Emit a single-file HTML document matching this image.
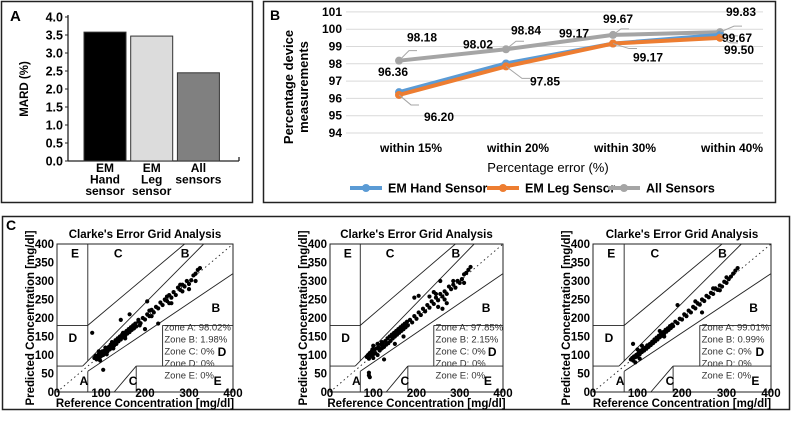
<!DOCTYPE html>
<html><head><meta charset="utf-8"><style>
body{margin:0;background:#fff}
svg{display:block;font-family:"Liberation Sans",Arial,sans-serif}
.b{font-weight:bold}
</style></head><body>
<svg id="s" width="793" height="421" viewBox="0 0 793 421" xmlns="http://www.w3.org/2000/svg">
<rect x="1.5" y="1.5" width="251" height="201" fill="none" stroke="#222" stroke-width="1.5"/>
<rect x="263.5" y="1.5" width="512" height="201" fill="none" stroke="#222" stroke-width="1.5"/>
<rect x="2.5" y="216.5" width="787" height="193" fill="none" stroke="#222" stroke-width="1.5"/>
<text x="10" y="21" class="b" font-size="15">A</text>
<text x="270" y="20" class="b" font-size="14">B</text>
<text x="6" y="230" class="b" font-size="14">C</text>
<g id="ga"></g><g id="gb"></g><g id="gc"></g>
</svg>
<script>
const NS="http://www.w3.org/2000/svg";
function mk(p,t,a,txt){const e=document.createElementNS(NS,t);for(const k in a)e.setAttribute(k,a[k]);if(txt!==undefined)e.textContent=txt;p.appendChild(e);return e;}

// ---------- Panel A data ----------
const aCats=[["EM","Hand","sensor"],["EM","Leg","sensor"],["All","sensors"]];
const aVals=[3.58,3.47,2.45];
const aTicks=["0.0","0.5","1.0","1.5","2.0","2.5","3.0","3.5","4.0"];
const aFill=["#000","#dcdcdc","#808080"];
// ---------- Panel B data ----------
const bCats=["within 15%","within 20%","within 30%","within 40%"];
const bHand=[96.36,98.02,99.17,99.67];
const bLeg=[96.20,97.85,99.17,99.50];
const bAll=[98.18,98.84,99.67,99.83];
const bTicks=[94,95,96,97,98,99,100,101];
// ---------- Panel C data ----------
const cTicks=[0,100,200,300,400];
const cYTicks=[0,50,100,150,200,250,300,350,400];
const c1Stats=["zone A: 98.02%","Zone B: 1.98%","Zone C: 0%","Zone D: 0%","Zone E: 0%"];
const c2Stats=["Zone A: 97.85%","Zone B: 2.15%","Zone C: 0%","Zone D: 0%","Zone E: 0%"];
const c3Stats=["Zone A: 99.01%","Zone B: 0.99%","Zone C: 0%","Zone D: 0%","Zone E: 0%"];
const c1Pts=[[85,92],[88,98],[90,88],[92,95],[95,102],[97,93],[100,105],[100,97],[103,110],[105,100],[108,112],[110,106],[112,118],[115,110],[118,122],[120,115],[122,128],[125,120],[128,132],[130,126],[133,140],[135,130],[138,145],[140,137],[143,150],[145,142],[148,155],[150,148],[153,160],[155,152],[158,165],[160,158],[163,170],[165,162],[168,175],[170,168],[173,180],[175,172],[178,185],[180,177],[185,190],[190,186],[195,200],[200,196],[205,210],[210,205],[215,222],[220,215],[225,230],[230,226],[235,242],[240,235],[245,250],[250,246],[255,262],[260,255],[265,270],[270,262],[275,282],[280,276],[285,290],[290,285],[295,300],[300,292],[305,302],[310,315],[315,320],[320,330],[325,335],[80,160],[105,60],[145,195],[165,210],[205,245],[200,170],[230,185],[260,240],[300,278],[315,300],[95,110],[98,85],[110,120],[113,102],[125,135],[128,118],[150,160],[155,145],[185,195],[188,180],[210,220],[215,205],[250,258],[255,240],[280,290],[285,272]];
const c2Pts=[[85,95],[88,100],[90,90],[92,105],[95,98],[97,110],[100,102],[100,92],[103,115],[105,105],[108,118],[110,100],[112,120],[115,112],[118,128],[120,118],[122,132],[125,122],[128,138],[130,128],[133,145],[135,132],[138,150],[140,138],[143,155],[145,145],[148,160],[150,150],[153,165],[155,155],[158,170],[160,160],[163,175],[165,165],[168,180],[170,170],[173,185],[175,175],[178,190],[180,180],[185,195],[190,188],[195,205],[200,198],[205,215],[210,208],[215,225],[220,218],[225,235],[230,228],[235,245],[240,238],[245,255],[250,248],[255,265],[260,258],[265,272],[270,265],[275,285],[280,278],[285,290],[290,282],[295,300],[300,295],[305,305],[310,318],[315,322],[320,330],[325,338],[90,45],[92,40],[90,52],[125,88],[195,255],[205,260],[250,230],[260,225],[255,300],[310,295],[295,300],[240,270],[245,265],[230,258],[270,240],[265,250],[285,300],[100,125],[110,130],[150,130],[170,150],[120,135],[98,115]];
const c3Pts=[[85,88],[88,92],[90,85],[92,96],[95,94],[97,100],[100,102],[100,96],[103,106],[105,102],[108,112],[110,108],[112,115],[115,112],[118,120],[120,117],[122,126],[125,122],[128,130],[130,127],[133,136],[135,132],[138,142],[140,137],[143,147],[145,142],[148,152],[150,148],[153,158],[155,152],[158,162],[160,158],[163,168],[165,163],[168,172],[170,168],[173,178],[175,173],[178,182],[180,178],[185,190],[190,186],[195,198],[200,196],[205,210],[210,205],[215,220],[220,215],[225,230],[230,226],[235,240],[240,236],[245,250],[250,246],[255,260],[260,256],[265,268],[270,265],[275,280],[280,276],[285,288],[290,285],[295,298],[300,295],[305,305],[310,312],[315,320],[320,328],[325,335],[90,130],[105,90],[190,235],[245,215],[300,310],[100,115],[110,125],[150,165],[160,150],[230,245],[270,280],[285,275],[95,80]];

// ---------- Panel A draw ----------
(function(){
  const g=document.getElementById('ga');
  const y=v=>161-v*36, x0=68, x1=239;
  mk(g,'line',{x1:x0,y1:15,x2:x0,y2:161,stroke:'#222','stroke-width':1.3,});
  mk(g,'line',{x1:x0,y1:161,x2:x1,y2:161,stroke:'#222','stroke-width':1.3,});
  mk(g,'line',{x1:x1,y1:161,x2:x1,y2:157,stroke:'#222','stroke-width':1.3});
  aTicks.forEach((t,i)=>{
    const yy=y(parseFloat(t));
    const l=mk(g,'line',{x1:x0-3,y1:yy,x2:x0,y2:yy,stroke:'#222'});
    
    
    const tx=mk(g,'text',{x:x0-5,y:yy+4.5,'text-anchor':'end','font-size':12.5,class:'b'},t);
    
    
  });
  const lab=mk(g,'text',{x:0,y:0,transform:'translate(28,89) rotate(-90)','text-anchor':'middle','font-size':11.5,class:'b'},'MARD (%)');
  
  
  const bw=42, start=84, step=46.7;
  aVals.forEach((v,i)=>{
    const bx=start+i*step;
    const r=mk(g,'rect',{x:bx,y:y(v),width:bw,height:161-y(v),fill:aFill[i],stroke:'#333','stroke-width':1});
    
    
    aCats[i].forEach((s,j)=>{
      const t=mk(g,'text',{x:bx+bw/2,y:172+j*11.5,'text-anchor':'middle','font-size':12,'font-weight':600},s);
      
      
    });
  });
})();

// ---------- Panel B draw ----------
(function(){
  const g=document.getElementById('gb');
  const y=v=>133-(v-94)*17.3;
  const x=i=>399+i*107;
  bTicks.forEach(t=>{
    const l=mk(g,'line',{x1:346,y1:y(t),x2:763,y2:y(t),stroke:'#d9d9d9','stroke-width':1});
    
    
    const tx=mk(g,'text',{x:342,y:y(t)+4,'text-anchor':'end','font-size':12,class:'b'},String(t));
    
    
  });
  bCats.forEach((c,i)=>{
    const t=mk(g,'text',{x:x(i)+12,y:152,'text-anchor':'middle','font-size':12,class:'b'},c);
    
    
  });
  let t=mk(g,'text',{x:548,y:172,'text-anchor':'middle','font-size':13},'Percentage error (%)');
  
  t=mk(g,'text',{x:0,y:0,transform:'translate(293,87) rotate(-90)','text-anchor':'middle','font-size':13,class:'b'},'Percentage device');
  
  t=mk(g,'text',{x:0,y:0,transform:'translate(308,87) rotate(-90)','text-anchor':'middle','font-size':13,class:'b'},'measurements');
  
  const series=[[bAll,'#a5a5a5','all-sensors'],[bHand,'#5b9bd5','em-hand-sensor'],[bLeg,'#ed7d31','em-leg-sensor']];
  series.forEach(([d,c,n])=>{
    const p=mk(g,'polyline',{points:d.map((v,i)=>x(i)+','+y(v)).join(' '),fill:'none',stroke:c,'stroke-width':4,'stroke-linejoin':'round'});
    
    
    d.forEach((v,i)=>{
      const ci=mk(g,'circle',{cx:x(i),cy:y(v),r:4,fill:c});
      
      
    });
  });
  const lab=(d,i,dx,dy,lx,ly)=>{
    const px=x(i),py=y(d[i]);
    mk(g,'polyline',{points:`${px},${py} ${px+lx},${py+ly} ${px+lx+(lx>0?8:lx<0?-8:0)},${py+ly}`,fill:'none',stroke:'#a6a6a6','stroke-width':1});
    const t=mk(g,'text',{x:px+dx,y:py+dy,'text-anchor':'middle','font-size':12,class:'b'},d[i].toFixed(2));
    
    
  };
  lab(bAll,0,23,-19,10,-10);lab(bAll,1,20,-15,10,-8);lab(bAll,2,5,-12,8,-6);lab(bAll,3,21,-16,14,-6);
  lab(bHand,0,-6,-16,0,0);lab(bHand,1,-28,-15,0,0);lab(bHand,2,-39,-6,0,0);lab(bHand,3,17,7,10,1);
  lab(bLeg,0,40,26,12,10);lab(bLeg,1,39,19,16,12);lab(bLeg,2,35,18,16,5);lab(bLeg,3,19,16,10,5);
  const leg=[['EM Hand Sensor','#5b9bd5',350],['EM Leg Sensor','#ed7d31',487],['All Sensors','#a5a5a5',608]];
  leg.forEach(([n,c,lx])=>{
    mk(g,'line',{x1:lx,y1:188,x2:lx+32,y2:188,stroke:c,'stroke-width':4});
    mk(g,'circle',{cx:lx+16,cy:188,r:4,fill:c});
    const t=mk(g,'text',{x:lx+38,y:192.5,'font-size':12.5,class:'b'},n);
    
    
  });
})();

// ---------- Panel C draw ----------
function clarke(x0,x1,pts,stats,id){
  const g=mk(document.getElementById('gc'),'g',{});
  
  
  const y0=392,y1=244;
  const X=v=>x0+v*(x1-x0)/400, Y=v=>y0-v*(y0-y1)/400;
  mk(g,'rect',{x:x0,y:y1,width:x1-x0,height:y0-y1,fill:'none',stroke:'#222','stroke-width':1});
  const L=(a,b,c,d,dash)=>mk(g,'line',{x1:X(a),y1:Y(b),x2:X(c),y2:Y(d),stroke:'#222','stroke-width':0.9,'stroke-dasharray':dash||'none'});
  L(0,0,400,400,'1.5,3');
  L(0,70,175/3,70);L(175/3,70,400/1.2,400);
  L(70,84,70,400);L(0,180,70,180);L(70,180,290,400);
  L(70,0,70,56);L(70,56,400,320);
  L(180,0,180,70);L(180,70,400,70);
  L(240,70,240,180);L(240,180,400,180);
  L(130,0,180,70);
  cTicks.forEach(t=>{
    const e=mk(g,'text',{x:X(t),y:397,'text-anchor':'middle','font-size':11.5,class:'b'},String(t));
    
    mk(g,'line',{x1:X(t),y1:y0,x2:X(t),y2:y0-2,stroke:'#222'});
  });
  cYTicks.forEach(t=>{
    const e=mk(g,'text',{x:x0-3,y:Y(t)+4,'text-anchor':'end','font-size':11.5,class:'b'},String(t));
    
  });
  let e=mk(g,'text',{x:(x0+x1)/2,y:238,'text-anchor':'middle','font-size':11.5,class:'b'},"Clarke's Error Grid Analysis");
  
  e=mk(g,'text',{x:(x0+x1)/2,y:407,'text-anchor':'middle','font-size':11.5,class:'b'},'Reference Concentration [mg/dl]');
  
  e=mk(g,'text',{x:0,y:0,transform:`translate(${x0-23},318) rotate(-90)`,'text-anchor':'middle','font-size':11.5,class:'b'},'Predicted Concentration [mg/dl]');
  
  const zl=[['E',41,375],['C',139,375],['B',291,375],['B',361,227],['D',36,146],['A',61,30],['C',173,30],['D',375,108],['E',365,30]];
  zl.forEach(([z,a,b])=>{
    const t=mk(g,'text',{x:X(a),y:Y(b)+4,'text-anchor':'middle','font-size':12,class:'b'},z);
    
  });
  stats.forEach((s,i)=>{
    const t=mk(g,'text',{x:X(244),y:Y(166)+i*12,'font-size':9.5,fill:'#333'},s);
    
  });
  pts.forEach(([a,b])=>{
    const c=mk(g,'circle',{cx:X(a),cy:Y(b),r:2.1,fill:'#000'});
    
    
  });
}
clarke(57,233,c1Pts,c1Stats,1);
clarke(330,503,c2Pts,c2Stats,2);
clarke(593,771,c3Pts,c3Stats,3);
</script>
</body></html>
